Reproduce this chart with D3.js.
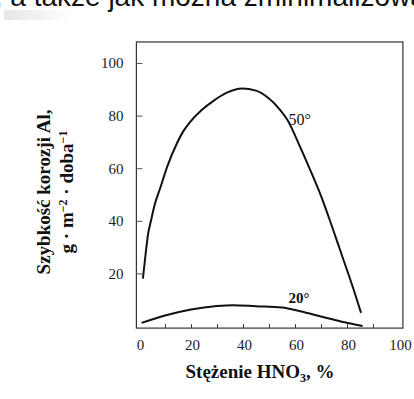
<!DOCTYPE html>
<html>
<head>
<meta charset="utf-8">
<script src="https://cdn.jsdelivr.net/npm/d3@7"></script>
<style>
  body { margin: 0; background: #fff; }
  svg { display: block; }
</style>
</head>
<body>
<div id="chart"></div>
<script>
// HNO3 concentration (%) vs corrosion rate of Al (g·m^-2·doba^-1)
var conc50 = [1.5, 2.5, 3.5, 4.6, 6, 8, 11, 14.6, 17, 19.6, 24, 28.5, 34, 39.6, 45, 50, 54, 57, 62, 66, 70, 74, 78, 82, 85.4];
var rate50 = [18, 27, 35, 40, 46, 52, 61, 69.5, 74, 77.5, 82, 85.5, 88.8, 90.3, 89.5, 86.5, 82.5, 78.5, 68, 59, 49.5, 38.5, 27, 15.5, 5];
var conc20 = [1, 10, 20, 30, 36, 45, 55, 62, 70, 78, 86];
var rate20 = [1.2, 4, 6.3, 7.6, 7.9, 7.5, 7, 5.6, 3.6, 1.6, 0];
var xLabels = [0, 20, 40, 60, 80, 100];
var xTicks = [10, 20, 30, 40, 50, 60, 70, 80, 90];
var yTicks = [20, 40, 60, 80, 100];

var W = 414, H = 399;
var svg = d3.select("#chart").append("svg").attr("width", W).attr("height", H);

// scan shadow at the top left
var grad = svg.append("defs").append("linearGradient").attr("id", "shade");
grad.append("stop").attr("offset", "0%").attr("stop-color", "#e6e6e6");
grad.append("stop").attr("offset", "100%").attr("stop-color", "#fff");
svg.append("rect").attr("x", 4).attr("y", 10).attr("width", 68).attr("height", 10).attr("fill", "url(#shade)");

// top line of page text (cut off by the scan)
svg.append("text")
  .attr("x", -13).attr("y", 6)
  .style("font-family", "Liberation Sans, Arial, sans-serif")
  .style("font-size", "28px")
  .attr("fill", "#111")
  .text("r, a także jak można zminimalizować");

var x = d3.scaleLinear().domain([0, 100]).range([139, 399]);
var y = d3.scaleLinear().domain([0, 100]).range([326, 63]);

// frame
svg.append("rect")
  .attr("x", x(-1)).attr("y", y(108))
  .attr("width", x(101.5) - x(-1)).attr("height", y(-0.8) - y(108))
  .attr("fill", "none").attr("stroke", "#333").attr("stroke-width", 1.2);

var serif = "Liberation Serif, Times New Roman, serif";

// x ticks (inward)
var gx = svg.append("g").attr("transform", "translate(0," + y(-0.8) + ")")
  .call(d3.axisBottom(x).tickValues(xTicks).tickSize(-4).tickFormat(""));
gx.select(".domain").remove();
gx.selectAll("line").attr("stroke", "#333");

var gxl = svg.append("g").attr("transform", "translate(0," + y(-0.8) + ")")
  .call(d3.axisBottom(x).tickValues(xLabels).tickSize(0).tickPadding(11));
gxl.select(".domain").remove();
gxl.selectAll("text").style("font-family", serif).style("font-size", "15px").attr("fill", "#222").attr("dx", "1");

// y ticks
var gy = svg.append("g").attr("transform", "translate(" + x(-1) + ",0)")
  .call(d3.axisLeft(y).tickValues(yTicks).tickSize(-6).tickPadding(13));
gy.select(".domain").remove();
gy.selectAll("line").attr("stroke", "#555");
gy.selectAll("text").style("font-family", serif).style("font-size", "15px").attr("fill", "#222");

// curves
var line = d3.line()
  .x(function(d) { return x(d[0]); })
  .y(function(d) { return y(d[1]); })
  .curve(d3.curveMonotoneX);

svg.append("path")
  .datum(d3.zip(conc50, rate50))
  .attr("d", line).attr("fill", "none").attr("stroke", "#111").attr("stroke-width", 2);
svg.append("path")
  .datum(d3.zip(conc20, rate20))
  .attr("d", line).attr("fill", "none").attr("stroke", "#111").attr("stroke-width", 2);

// curve labels
svg.append("text").attr("x", x(57.5)).attr("y", y(76.5))
  .style("font-family", serif).style("font-size", "16px")
  .attr("fill", "#111").text("50°");
svg.append("text").attr("x", x(57.5)).attr("y", y(8.6))
  .style("font-family", serif).style("font-size", "15px").style("font-weight", "bold")
  .attr("fill", "#111").text("20°");

// x title
var xt = svg.append("text").attr("x", 260).attr("y", 378).attr("text-anchor", "middle")
  .style("font-family", serif).style("font-size", "19px").style("font-weight", "bold")
  .attr("fill", "#111");
xt.append("tspan").text("Stężenie HNO");
xt.append("tspan").attr("dy", 4).style("font-size", "12px").text("3");
xt.append("tspan").attr("dy", -4).text(", %");

// y title
var yt = svg.append("g").attr("transform", "translate(50,192) rotate(-90)");
yt.append("text").attr("text-anchor", "middle")
  .style("font-family", serif).style("font-size", "19px").style("font-weight", "bold")
  .attr("fill", "#111").text("Szybkość korozji Al,");
var yt2 = yt.append("text").attr("y", 23).attr("text-anchor", "middle")
  .style("font-family", serif).style("font-size", "19px").style("font-weight", "bold")
  .attr("fill", "#111");
yt2.append("tspan").text("g · m");
yt2.append("tspan").attr("dy", -6).style("font-size", "12px").text("−2");
yt2.append("tspan").attr("dy", 6).text(" · doba");
yt2.append("tspan").attr("dy", -6).style("font-size", "12px").text("−1");
</script>
</body>
</html>
